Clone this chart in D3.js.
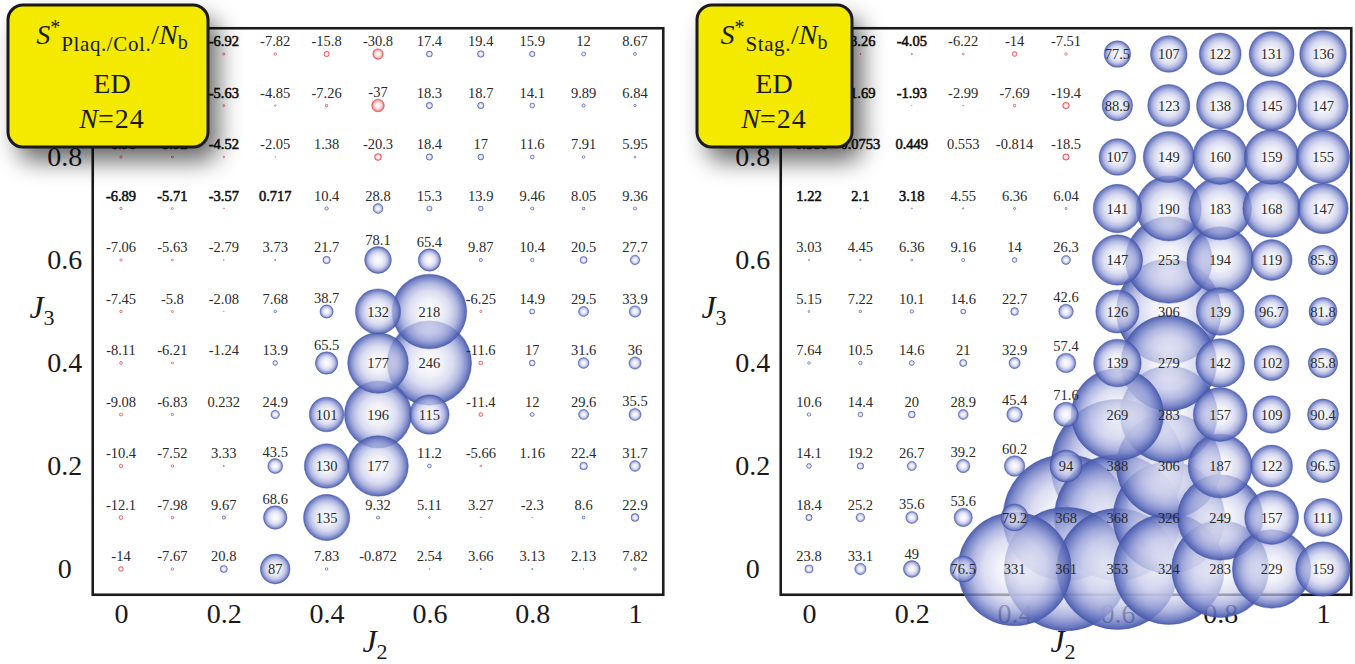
<!DOCTYPE html>
<html>
<head>
<meta charset="utf-8">
<title>ED structure factors</title>
<script src="https://cdn.jsdelivr.net/npm/d3@7"></script>
<style>
  body { margin: 0; background: #fff; }
  svg text { font-family: "Liberation Serif", "DejaVu Serif", serif; }
</style>
</head>
<body>
<svg id="chart"></svg>
<script>
// grid: J2 across, J3 rows from top (1) to bottom (0)
const J2 = [0, 0.1, 0.2, 0.3, 0.4, 0.5, 0.6, 0.7, 0.8, 0.9, 1];
const J3 = [1, 0.9, 0.8, 0.7, 0.6, 0.5, 0.4, 0.3, 0.2, 0.1, 0];
const xTicks = [0, 0.2, 0.4, 0.6, 0.8, 1];
const yTicks = [0, 0.2, 0.4, 0.6, 0.8];   // the "1" tick sits under the box

// S*_Plaq./Col. / N_b   (first two columns of the top rows sit under the box, guessed)
const plaqValues = [
  [-8.44, -7.6, -6.92, -7.82, -15.8, -30.8, 17.4, 19.4, 15.9, 12, 8.67],
  [-7.36, -6.58, -5.63, -4.85, -7.26, -37, 18.3, 18.7, 14.1, 9.89, 6.84],
  [-6.98, -5.92, -4.52, -2.05, 1.38, -20.3, 18.4, 17, 11.6, 7.91, 5.95],
  [-6.89, -5.71, -3.57, 0.717, 10.4, 28.8, 15.3, 13.9, 9.46, 8.05, 9.36],
  [-7.06, -5.63, -2.79, 3.73, 21.7, 78.1, 65.4, 9.87, 10.4, 20.5, 27.7],
  [-7.45, -5.8, -2.08, 7.68, 38.7, 132, 218, -6.25, 14.9, 29.5, 33.9],
  [-8.11, -6.21, -1.24, 13.9, 65.5, 177, 246, -11.6, 17, 31.6, 36],
  [-9.08, -6.83, 0.232, 24.9, 101, 196, 115, -11.4, 12, 29.6, 35.5],
  [-10.4, -7.52, 3.33, 43.5, 130, 177, 11.2, -5.66, 1.16, 22.4, 31.7],
  [-12.1, -7.98, 9.67, 68.6, 135, 9.32, 5.11, 3.27, -2.3, 8.6, 22.9],
  [-14, -7.67, 20.8, 87, 7.83, -0.872, 2.54, 3.66, 3.13, 2.13, 7.82]
];

// S*_Stag. / N_b
const stagValues = [
  [-2.71, -3.26, -4.05, -6.22, -14, -7.51, 77.5, 107, 122, 131, 136],
  [-1.32, -1.69, -1.93, -2.99, -7.69, -19.4, 88.9, 123, 138, 145, 147],
  [-0.386, 0.0753, 0.449, 0.553, -0.814, -18.5, 107, 149, 160, 159, 155],
  [1.22, 2.1, 3.18, 4.55, 6.36, 6.04, 141, 190, 183, 168, 147],
  [3.03, 4.45, 6.36, 9.16, 14, 26.3, 147, 253, 194, 119, 85.9],
  [5.15, 7.22, 10.1, 14.6, 22.7, 42.6, 126, 306, 139, 96.7, 81.8],
  [7.64, 10.5, 14.6, 21, 32.9, 57.4, 139, 279, 142, 102, 85.8],
  [10.6, 14.4, 20, 28.9, 45.4, 71.6, 269, 283, 157, 109, 90.4],
  [14.1, 19.2, 26.7, 39.2, 60.2, 94, 388, 306, 187, 122, 96.5],
  [18.4, 25.2, 35.6, 53.6, 79.2, 368, 368, 326, 249, 157, 111],
  [23.8, 33.1, 49, 76.5, 331, 361, 353, 324, 283, 229, 159]
];

const boxMethod = "ED";
const boxSize = "24";

const panels = [
  {values: plaqValues, sub: "Plaq./Col.", xRange: [121, 635],
   box: {x: 8, y: 5, w: 200, h: 142, tx: 112}, yTitleX: 42},
  {values: stagValues, sub: "Stag.", xRange: [809, 1323],
   box: {x: 697, y: 5, w: 155, h: 142, tx: 774}, yTitleX: 714}
];

const svg = d3.select("#chart").attr("width", 1355).attr("height", 664);
const defs = svg.append("defs");

defs.append("filter").attr("id", "soft")
  .attr("x", "-50%").attr("y", "-50%").attr("width", "200%").attr("height", "200%")
  .append("feGaussianBlur").attr("stdDeviation", 12);

function gradient(id, stops) {
  let gr = defs.append("radialGradient").attr("id", id);
  stops.forEach(s => gr.append("stop").attr("offset", s[0])
    .attr("stop-color", s[1]).attr("stop-opacity", s[2]));
}
gradient("pos", [[0, "#ffffff", 0.75], [0.3, "#ebecf7", 0.7], [0.55, "#cdd0ec", 0.72],
                 [0.75, "#9ca4d9", 0.78], [0.9, "#6574bf", 0.85], [1, "#4557ab", 0.95]]);
gradient("neg", [[0, "#ffffff", 0.75], [0.3, "#fdeced", 0.7], [0.55, "#f8c9cc", 0.74],
                 [0.75, "#f19aa0", 0.82], [0.9, "#e8606a", 0.9], [1, "#e03c47", 0.95]]);

const y = d3.scaleLinear().domain([0, 1]).range([569, 54]);

panels.forEach(p => {
  let x = d3.scaleLinear().domain([0, 1]).range(p.xRange);
  // bubble radius in J units: |S| / 3000
  let rad = v => x(Math.abs(v) / 3000) - x(0);
  let fx0 = x(-0.055), fx1 = x(1.055), fy0 = y(1.05), fy1 = y(-0.05);
  let b = p.box;
  let g = svg.append("g");

  let cells = [];
  J3.forEach((j3, i) => J2.forEach((j2, k) => {
    let v = p.values[i][k];
    cells.push({v: v, cx: x(j2), cy: y(j3), r: rad(v)});
  }));

  // label goes above small bubbles when there is room, otherwise in the middle
  cells.forEach(c => {
    c.lx = c.cx; c.ly = c.cy;
    if (c.r > 13.7) return;
    let ly = c.cy - Math.max(13, c.r + 7);
    let hit = ly - 7 < fy0 || cells.some(o => o !== c &&
      Math.hypot(c.cx - o.cx, ly - o.cy) < o.r);
    if (!hit) c.ly = ly;
  });
  // labels lying fully under the yellow box are not seen
  let hw = c => String(c.v).length * 3.8;
  let shown = cells.filter(c => !(c.lx + hw(c) < b.x + b.w && c.ly + 6 < b.y + b.h));
  // text inside the box shadow looks heavier in the original
  let shaded = c => c.lx - (b.x + b.w) < 62 + 0.15 * Math.max(0, c.ly - b.y - b.h)
    && c.ly < b.y + b.h + 56;

  g.append("rect")
    .attr("x", fx0).attr("y", fy0).attr("width", fx1 - fx0).attr("height", fy1 - fy0)
    .attr("fill", "none").attr("stroke", "#1c1c1c").attr("stroke-width", 2.6);

  let xAxis = g.append("g").attr("transform", `translate(0,${fy1 + 8})`)
    .call(d3.axisBottom(x).tickValues(xTicks).tickFormat(d => String(d)).tickSize(0).tickPadding(0));
  let yAxis = g.append("g").attr("transform", `translate(${fx0},0)`)
    .call(d3.axisLeft(y).tickValues(yTicks).tickFormat(d => String(d)).tickSize(0));
  [xAxis, yAxis].forEach(a => {
    a.select(".domain").remove();
    a.selectAll("text").attr("font-size", 28).attr("fill", "#1a1a1a")
      .attr("font-family", "Liberation Serif, DejaVu Serif, serif");
  });
  yAxis.selectAll("text").attr("text-anchor", "middle").attr("x", -28);

  // axis titles
  let xt = g.append("text").attr("x", (fx0 + fx1) / 2 - 3).attr("y", 652)
    .attr("text-anchor", "middle").attr("fill", "#1a1a1a").attr("font-size", 32);
  xt.append("tspan").attr("font-style", "italic").text("J");
  xt.append("tspan").attr("font-size", 22).attr("dy", 7).text("2");
  let yt = g.append("text").attr("x", p.yTitleX).attr("y", 318)
    .attr("text-anchor", "middle").attr("fill", "#1a1a1a").attr("font-size", 32);
  yt.append("tspan").attr("font-style", "italic").text("J");
  yt.append("tspan").attr("font-size", 22).attr("dy", 7).text("3");

  // bubbles, big ones first
  g.append("g").selectAll("circle")
    .data(cells.filter(c => c.r > 0.3).sort((a, b) => b.r - a.r))
    .enter().append("circle")
    .attr("cx", d => d.cx).attr("cy", d => d.cy).attr("r", d => d.r)
    .attr("fill", d => d.v < 0 ? "url(#neg)" : "url(#pos)")
    .attr("stroke", d => d.v < 0 ? "#e03c47" : "#4557ab")
    .attr("stroke-opacity", 0.6).attr("stroke-width", 0.7);

  g.append("g").selectAll("text").data(shown).enter().append("text")
    .attr("x", d => d.lx).attr("y", d => d.ly).attr("dy", "0.35em")
    .attr("text-anchor", "middle").attr("font-size", 14.5)
    .attr("fill", d => shaded(d) ? "#111" : "#2a2a2a")
    .attr("stroke", d => shaded(d) ? "#111" : "none").attr("stroke-width", 0.55)
    .text(d => String(d.v));

  // yellow box
  let bg = svg.append("g");
  bg.append("rect").attr("x", b.x + 10).attr("y", b.y + 14).attr("width", b.w).attr("height", b.h)
    .attr("rx", 15).attr("fill", "#000").attr("opacity", 0.6).attr("filter", "url(#soft)");
  bg.append("rect").attr("x", b.x).attr("y", b.y).attr("width", b.w).attr("height", b.h)
    .attr("rx", 15).attr("fill", "#f4ea00").attr("stroke", "#1a1a1a").attr("stroke-width", 3);

  let t1 = bg.append("text").attr("x", b.tx).attr("y", 44).attr("text-anchor", "middle")
    .attr("font-size", 28).attr("fill", "#1a1a1a");
  t1.append("tspan").attr("font-style", "italic").text("S");
  t1.append("tspan").attr("font-size", 20).attr("dy", -10).text("*");
  t1.append("tspan").attr("font-size", 21).attr("dx", 1).attr("dy", 17)
    .attr("letter-spacing", 0.6).text(p.sub);
  t1.append("tspan").attr("dy", -7).text("/");
  t1.append("tspan").attr("font-style", "italic").text("N");
  t1.append("tspan").attr("font-size", 20).attr("dy", 5).text("b");

  bg.append("text").attr("x", b.tx).attr("y", 93).attr("text-anchor", "middle")
    .attr("font-size", 28).attr("fill", "#1a1a1a").text(boxMethod);
  let t3 = bg.append("text").attr("x", b.tx).attr("y", 128).attr("text-anchor", "middle")
    .attr("font-size", 28).attr("fill", "#1a1a1a");
  t3.append("tspan").attr("font-style", "italic").text("N");
  t3.append("tspan").attr("letter-spacing", 1).text("=" + boxSize);
});
</script>
</body>
</html>
